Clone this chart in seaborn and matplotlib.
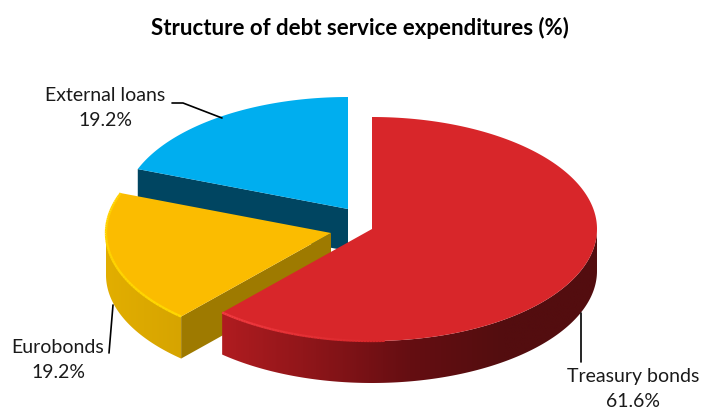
import numpy as np
import seaborn as sns
import matplotlib.pyplot as plt
from matplotlib.collections import LineCollection
from matplotlib.patches import Polygon

# data
labels = ['Treasury bonds', 'Eurobonds', 'External loans']
shares = [61.6, 19.2, 19.2]

# colours of the slices
top_colors = ['#d8262a', '#fbbc00', '#00aeef']
cut_colors = [None, '#9e7a00', '#004561']
side_colors = [['#b01c20', '#8c1519', '#650e12', '#530d0f', '#530d0f'],
               ['#e2ae00', '#d6a400'],
               None]
rim_colors = [['#f23a40', '#d8262a'], ['#ffd800', '#ffd000'], None]

# pie geometry in pixels
centers = [(372, 229), (331, 233), (348, 209)]
rx, ry, depth = 225, 112, 42

sns.set_theme(style='white')
plt.rcParams['font.family'] = ['Lato', 'DejaVu Sans']

fig, ax = plt.subplots(figsize=(7.02, 4.09), dpi=100)
ax.set_position([0, 0, 1, 1])
ax.axis('off')


def rim(center, angles):
    # angles run clockwise from 12 o'clock
    t = np.radians(angles)
    return center[0] + rx * np.sin(t), center[1] - ry * np.cos(t)


def draw_wall(x, y, colors, zorder):
    # wall with a left to right gradient, clipped to the rim band
    poly = Polygon(np.column_stack([np.r_[x, x[::-1]], np.r_[y, y[::-1] + depth]]),
                   closed=True, fc='none', ec='none', transform=ax.transData)
    ax.add_patch(poly)
    strip = np.array(sns.blend_palette(colors, 256))[np.newaxis, :, :]
    img = ax.imshow(strip, extent=[x.min(), x.max(), y.max() + depth, y.min()],
                    aspect='auto', interpolation='bilinear', zorder=zorder)
    img.set_clip_path(poly)


def draw_slice(i, start, stop):
    center = centers[i]
    angles = np.linspace(start, stop, 300)
    x, y = rim(center, angles)
    zorder = 3 - i if i else 3

    # outer wall, only the part which faces the viewer
    front = (angles >= 90) & (angles <= 270)
    if side_colors[i] and front.any():
        draw_wall(x[front], y[front], side_colors[i], zorder)

    # cut face of the first radius
    if cut_colors[i]:
        ax.fill([center[0], x[0], x[0], center[0]],
                [center[1], y[0], y[0] + depth, center[1] + depth],
                color=cut_colors[i], lw=0, zorder=zorder)

    # top face
    ax.fill(np.r_[center[0], x], np.r_[center[1], y],
            color=top_colors[i], lw=0, zorder=zorder + 0.1)


def draw_highlight(i, from_angle, to_angle):
    # light rim at the front edge
    x, y = rim(centers[i], np.linspace(from_angle, to_angle, 60))
    pts = np.column_stack([x, y])
    segs = np.stack([pts[:-1], pts[1:]], axis=1)
    ax.add_collection(LineCollection(segs, colors=sns.blend_palette(rim_colors[i], 59),
                                     linewidths=1.7, zorder=4))


# slices start at 12 o'clock, going clockwise
bounds = np.r_[0, np.cumsum(shares)] * 360 / np.sum(shares)
for i in [2, 1, 0]:
    draw_slice(i, bounds[i], bounds[i + 1])
draw_highlight(0, bounds[1], bounds[1] - 45)
draw_highlight(1, bounds[1], bounds[2])

ax.set_xlim(0, 702)
ax.set_ylim(409, 0)

# leader lines
ax.plot([172, 183, 222], [103, 103, 118], color='black', lw=1.2, zorder=5)
ax.plot([113, 109], [305, 353], color='black', lw=1.2, zorder=5)
ax.plot([581, 581], [313, 362], color='black', lw=1.2, zorder=5)

# labels
label_pos = [(633, 389), (58, 360), (105, 108)]
for name, share, (lx, ly) in zip(labels, shares, label_pos):
    ax.text(lx, ly, f'{name}\n{share:.1f}%', ha='center', va='center',
            fontsize=14, color='#1a1a1a', linespacing=1.62, zorder=6)

ax.text(360, 28, 'Structure of debt service expenditures (%)', ha='center',
        va='center', fontsize=16, fontweight='bold', color='black')

fig.savefig('out.png', dpi=100)
